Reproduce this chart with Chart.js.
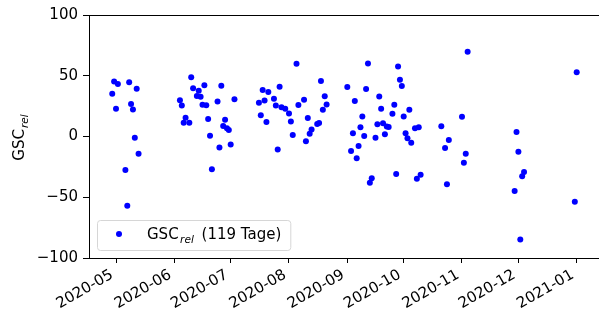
<!DOCTYPE html>
<html>
<head>
<meta charset="utf-8">
<script src="https://cdn.jsdelivr.net/npm/chart.js@4"></script>
<style>
  html, body { margin: 0; padding: 0; background: #fff; }
  #wrap { width: 599px; height: 313px; }
</style>
</head>
<body>
<div id="wrap"><canvas id="c" width="599" height="313"></canvas></div>
<script>
// ---- data ----
const dates = [
  '2020-04-29','2020-04-30','2020-05-01','2020-05-02','2020-05-06','2020-05-07','2020-05-08','2020-05-09','2020-05-10','2020-05-11','2020-05-12','2020-05-13',
  '2020-06-04','2020-06-05','2020-06-06','2020-06-07','2020-06-09','2020-06-10','2020-06-11','2020-06-13','2020-06-14','2020-06-15','2020-06-16','2020-06-17','2020-06-18','2020-06-19','2020-06-20','2020-06-21','2020-06-24','2020-06-25','2020-06-26','2020-06-27','2020-06-28','2020-06-29','2020-06-30','2020-07-01','2020-07-03',
  '2020-07-16','2020-07-17','2020-07-18','2020-07-19','2020-07-20','2020-07-21','2020-07-24','2020-07-25','2020-07-26','2020-07-27','2020-07-28','2020-07-30','2020-08-01','2020-08-02','2020-08-03','2020-08-05','2020-08-06','2020-08-09','2020-08-10','2020-08-11','2020-08-12','2020-08-13','2020-08-16','2020-08-17','2020-08-18','2020-08-19','2020-08-20','2020-08-21',
  '2020-09-01','2020-09-03','2020-09-04','2020-09-05','2020-09-06','2020-09-07','2020-09-08','2020-09-09','2020-09-10','2020-09-11','2020-09-12','2020-09-13','2020-09-14','2020-09-16','2020-09-17','2020-09-18','2020-09-19','2020-09-20','2020-09-21','2020-09-22','2020-09-23','2020-09-25','2020-09-26','2020-09-27','2020-09-28','2020-09-29','2020-09-30','2020-10-01','2020-10-02','2020-10-03','2020-10-04','2020-10-05','2020-10-07','2020-10-08','2020-10-09','2020-10-10','2020-10-21','2020-10-23','2020-10-24','2020-10-25','2020-11-01','2020-11-02','2020-11-03','2020-11-04',
  '2020-11-29','2020-11-30','2020-12-01','2020-12-02','2020-12-03','2020-12-04','2020-12-31','2021-01-01'
];
const gscRel = [
  35.2,45.2,22.8,43.3,-27.6,-57.0,44.6,26.7,22.2,-1.1,39.4,-14.3,
  29.9,25.5,11.4,15.5,11.4,48.8,39.8,33.3,37.6,32.8,26.1,42.1,25.7,14.5,0.7,-26.9,28.9,-9.1,41.7,8.7,13.7,6.8,5.4,-6.6,30.7,
  27.8,17.4,38.3,29.6,12.0,36.7,31.1,25.5,-10.6,41.0,24.0,22.8,18.9,12.4,1.2,59.9,26.0,30.3,-3.9,15.3,2.3,5.8,10.2,11.2,45.6,22.0,33.2,26.4,
  40.8,-12.0,2.7,29.3,-17.8,-7.9,7.6,16.4,0.4,39.1,60.0,-38.1,-34.4,-1.0,10.0,33.0,22.8,10.9,1.8,8.3,7.9,18.7,26.1,-30.8,57.6,46.8,41.6,16.4,2.7,-1.4,22.0,-5.1,6.8,-34.7,7.7,-31.5,8.5,-9.5,-39.4,-2.9,16.2,-21.7,-14.3,69.8,
  -44.9,3.7,-12.6,-84.7,-32.8,-29.2,-53.7,52.9
];
const xTickLabels = ['2020-05','2020-06','2020-07','2020-08','2020-09','2020-10','2020-11','2020-12','2021-01'];
const yTicks = [-100, -50, 0, 50, 100];
const legendLabel = { main: 'GSC', sub: 'rel', rest: ' (119 Tage)' };
const yTitle = { main: 'GSC', sub: 'rel' };

// ---- helpers ----
const DAY = 86400000;
const ORIGIN = Date.UTC(2020, 4, 1);
function dayNum(s) {
  const [y, m, d] = s.split('-').map(Number);
  return (Date.UTC(y, m - 1, d) - ORIGIN) / DAY;
}
const monthTicks = xTickLabels.map(s => dayNum(s + '-01'));
const points = dates.map((d, i) => ({ x: dayNum(d), y: gscRel[i] }));

const FONT = '"DejaVu Sans", sans-serif';
const FS = 15;

const extras = {
  id: 'extras',
  afterDraw(chart) {
    const { ctx, chartArea: a } = chart;
    ctx.save();
    // top spine
    ctx.strokeStyle = '#000';
    ctx.lineWidth = 1;
    ctx.beginPath();
    ctx.moveTo(a.left, Math.round(a.top) + 0.5);
    ctx.lineTo(a.right, Math.round(a.top) + 0.5);
    ctx.stroke();

    // y title (rotated, with subscript)
    ctx.fillStyle = '#000';
    ctx.textBaseline = 'alphabetic';
    ctx.textAlign = 'left';
    ctx.font = FS + 'px ' + FONT;
    const wMain = ctx.measureText(yTitle.main).width;
    ctx.font = 'italic ' + (FS * 0.7) + 'px ' + FONT;
    const wSub = ctx.measureText(yTitle.sub).width;
    const tot = wMain + wSub + 1;
    ctx.save();
    ctx.translate(24, (a.top + a.bottom) / 2 + 1);
    ctx.rotate(-Math.PI / 2);
    ctx.font = FS + 'px ' + FONT;
    ctx.fillText(yTitle.main, -tot / 2, 0);
    ctx.font = 'italic ' + (FS * 0.7) + 'px ' + FONT;
    ctx.fillText(yTitle.sub, -tot / 2 + wMain + 1, 3.5);
    ctx.restore();

    // legend
    ctx.font = FS + 'px ' + FONT;
    const lm = ctx.measureText(legendLabel.main).width;
    const lr = ctx.measureText(legendLabel.rest).width;
    ctx.font = 'italic ' + (FS * 0.7) + 'px ' + FONT;
    const ls = ctx.measureText(legendLabel.sub).width;
    const bx = a.left + 8, bh = 30, by = a.bottom - 8 - bh;
    const textX = bx + 50;
    const subGap = 1.5, restGap = 3;
    const bw = 50 + lm + subGap + ls + restGap + lr + 9;
    ctx.beginPath();
    ctx.roundRect(bx + 0.5, by + 0.5, bw, bh, 3);
    ctx.fillStyle = 'rgba(255,255,255,0.8)';
    ctx.fill();
    ctx.strokeStyle = '#d6d6d6';
    ctx.lineWidth = 1;
    ctx.stroke();
    ctx.beginPath();
    ctx.arc(bx + 22, by + 14, 3, 0, Math.PI * 2);
    ctx.fillStyle = '#0000ff';
    ctx.fill();
    ctx.fillStyle = '#000';
    const base = by + 19;
    ctx.font = FS + 'px ' + FONT;
    ctx.fillText(legendLabel.main, textX, base);
    ctx.font = 'italic ' + (FS * 0.7) + 'px ' + FONT;
    ctx.fillText(legendLabel.sub, textX + lm + subGap, base + 3.5);
    ctx.font = FS + 'px ' + FONT;
    ctx.fillText(legendLabel.rest, textX + lm + subGap + ls + restGap, base);
    ctx.restore();
  }
};

const PXDAY = 1.8804;
const xMin = (89 - 116) / PXDAY;
const xMax = (599 - 116) / PXDAY;

new Chart(document.getElementById('c'), {
  type: 'scatter',
  data: {
    datasets: [{
      label: 'GSCrel (119 Tage)',
      data: points,
      backgroundColor: '#0000ff',
      borderColor: '#0000ff',
      borderWidth: 0,
      pointRadius: 3,
      pointHoverRadius: 3
    }]
  },
  options: {
    responsive: false,
    animation: false,
    devicePixelRatio: 1,
    layout: { autoPadding: false, padding: { top: 15, right: 0, left: 0, bottom: 0 } },
    plugins: { legend: { display: false }, tooltip: { enabled: false } },
    scales: {
      x: {
        type: 'linear',
        min: xMin,
        max: xMax,
        afterBuildTicks(scale) { scale.ticks = monthTicks.map(v => ({ value: v })); },
        afterFit(scale) { scale.height = 55; scale.paddingLeft = 0; scale.paddingRight = 0; },
        ticks: {
          autoSkip: false,
          minRotation: 30,
          maxRotation: 30,
          padding: 3,
          labelOffset: -4,
          color: '#000',
          font: { family: FONT, size: FS },
          callback(v) { const i = monthTicks.indexOf(v); return i >= 0 ? xTickLabels[i] : ''; }
        },
        grid: { display: true, drawOnChartArea: false, drawTicks: true, tickLength: 5, color: '#000', lineWidth: 1 },
        border: { display: true, color: '#000', width: 1 }
      },
      y: {
        min: -100,
        max: 100,
        afterBuildTicks(scale) { scale.ticks = yTicks.map(v => ({ value: v })); },
        afterFit(scale) { scale.width = 89; scale.paddingTop = 0; scale.paddingBottom = 0; },
        ticks: {
          padding: 5,
          color: '#000',
          font: { family: FONT, size: FS },
          callback(v) { return v < 0 ? '\u2212' + Math.abs(v) : String(v); }
        },
        grid: { display: true, drawOnChartArea: false, drawTicks: true, tickLength: 6, color: '#000', lineWidth: 1 },
        border: { display: true, color: '#000', width: 1 }
      }
    }
  },
  plugins: [extras]
});
</script>
</body>
</html>
